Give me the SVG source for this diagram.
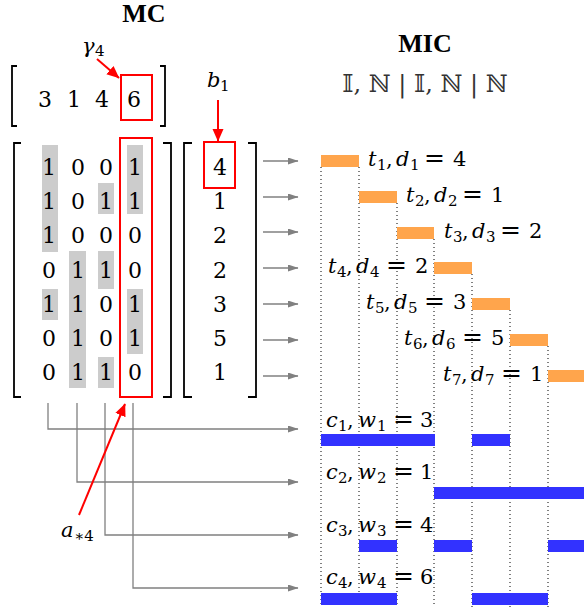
<svg xmlns="http://www.w3.org/2000/svg" width="584" height="607" viewBox="0 0 584 607">
  <style>
    .title { font-family: "Liberation Serif", "Times New Roman", serif; font-weight: bold; font-size: 26px; fill: #000; text-anchor: middle; }
    .num { font-family: "DejaVu Serif", serif; font-size: 22px; fill: #000; text-anchor: middle; }
    .m { font-family: "DejaVu Serif", serif; font-size: 21px; fill: #000; }
    .i { font-style: italic; }
    .s { font-size: 15px; }
    .eq { font-size: 25px; }
    .dbl { font-family: "DejaVu Serif", "DejaVu Sans", serif; font-size: 24px; fill: #333; text-anchor: middle; }
    .br { fill: none; stroke: #000; stroke-width: 1.8; }
    .hl { fill: #cccccc; }
    .red { fill: none; stroke: #ff0000; stroke-width: 2; }
    .rarrow { fill: none; stroke: #ff0000; stroke-width: 2; marker-end: url(#redHead); }
    .garrow { fill: none; stroke: #808080; stroke-width: 1.3; marker-end: url(#grayHead); }
    .dot { fill: none; stroke: #000; stroke-width: 1; stroke-dasharray: 1 3; }
    .task { fill: #ffa54c; }
    .cov { fill: #3232ff; }
  </style>
  <defs>
    <marker id="grayHead" markerUnits="userSpaceOnUse" markerWidth="12" markerHeight="8" refX="10" refY="3.5" orient="auto">
      <path d="M0,0 L10.5,3.5 L0,7 Z" fill="#808080"/>
    </marker>
    <marker id="redHead" markerUnits="userSpaceOnUse" markerWidth="14" markerHeight="12" refX="12" refY="5.5" orient="auto">
      <path d="M0,0 L12.5,5.5 L0,11 Z" fill="#ff0000"/>
    </marker>
  </defs>

  <!-- headings -->
  <text class="title" x="144" y="22">MC</text>
  <text class="title" x="425" y="52">MIC</text>
  <text class="dbl" x="425" y="92">𝕀, ℕ | 𝕀, ℕ | ℕ</text>

  <!-- cost vector gamma -->
  <g id="gamma">
    <path class="br" d="M17,66 H12 V126 H17"/>
    <path class="br" d="M160,66 H165 V126 H160"/>
    <text class="num" x="45" y="107">3</text>
    <text class="num" x="74" y="107">1</text>
    <text class="num" x="102" y="107">4</text>
    <text class="num" x="134" y="107">6</text>
    <rect class="red" x="121" y="75" width="31" height="45"/>
    <text class="m" y="53"><tspan class="i" x="82">γ</tspan><tspan class="s" x="95" dy="3">4</tspan></text>
  </g>

  <!-- constraint matrix A -->
  <g id="matrixA">
    <rect class="hl" x="42" y="145" width="16" height="107"/>
    <rect class="hl" x="42" y="289" width="16" height="31"/>
    <rect class="hl" x="69" y="251" width="17" height="137"/>
    <rect class="hl" x="98" y="183" width="16" height="31"/>
    <rect class="hl" x="98" y="251" width="16" height="38"/>
    <rect class="hl" x="98" y="357" width="16" height="31"/>
    <rect class="hl" x="127" y="145" width="16" height="69"/>
    <rect class="hl" x="127" y="289" width="16" height="65"/>
    <path class="br" d="M21,143 H14 V397 H21"/>
    <path class="br" d="M163,143 H171 V397 H163"/>
    <g class="num">
      <text x="49" y="175">1</text><text x="78" y="175">0</text><text x="106" y="175">0</text><text x="135" y="175">1</text>
      <text x="49" y="209">1</text><text x="78" y="209">0</text><text x="106" y="209">1</text><text x="135" y="209">1</text>
      <text x="49" y="243">1</text><text x="78" y="243">0</text><text x="106" y="243">0</text><text x="135" y="243">0</text>
      <text x="49" y="278">0</text><text x="78" y="278">1</text><text x="106" y="278">1</text><text x="135" y="278">0</text>
      <text x="49" y="312">1</text><text x="78" y="312">1</text><text x="106" y="312">0</text><text x="135" y="312">1</text>
      <text x="49" y="346">0</text><text x="78" y="346">1</text><text x="106" y="346">0</text><text x="135" y="346">1</text>
      <text x="49" y="380">0</text><text x="78" y="380">1</text><text x="106" y="380">1</text><text x="135" y="380">0</text>
    </g>
    <rect class="red" x="120" y="138" width="32" height="259"/>
    <text class="m" y="537"><tspan class="i" x="61">a</tspan><tspan class="s" x="74" dy="4">∗4</tspan></text>
  </g>

  <!-- demand vector b -->
  <g id="vectorB">
    <path class="br" d="M192,143 H184 V397 H192"/>
    <path class="br" d="M248,143 H256 V397 H248"/>
    <g class="num">
      <text x="220" y="175">4</text>
      <text x="220" y="209">1</text>
      <text x="220" y="243">2</text>
      <text x="220" y="278">2</text>
      <text x="220" y="312">3</text>
      <text x="220" y="346">5</text>
      <text x="220" y="380">1</text>
    </g>
    <rect class="red" x="204" y="142" width="31" height="46"/>
    <text class="m" y="87"><tspan class="i" x="207">b</tspan><tspan class="s" x="220" dy="4">1</tspan></text>
  </g>

  <!-- time grid -->
  <g id="grid">
    <line class="dot" x1="321" y1="167" x2="321" y2="607"/>
    <line class="dot" x1="359" y1="167" x2="359" y2="607"/>
    <line class="dot" x1="397" y1="203" x2="397" y2="607"/>
    <line class="dot" x1="434" y1="239" x2="434" y2="607"/>
    <line class="dot" x1="472" y1="274" x2="472" y2="607"/>
    <line class="dot" x1="510" y1="310" x2="510" y2="607"/>
    <line class="dot" x1="548" y1="346" x2="548" y2="607"/>
  </g>

  <!-- task intervals -->
  <g id="t1">
    <rect class="task" x="321" y="155" width="38" height="12"/>
    <text class="m" y="166"><tspan class="i" x="368">t</tspan><tspan class="s" x="377" dy="4">1</tspan><tspan x="386" dy="-4">,</tspan><tspan class="i" x="396">d</tspan><tspan class="s" x="410" dy="4">1</tspan><tspan class="eq" x="424" dy="-4">=</tspan><tspan x="453">4</tspan></text>
  </g>
  <g id="t2">
    <rect class="task" x="359" y="191" width="38" height="12"/>
    <text class="m" y="202"><tspan class="i" x="406">t</tspan><tspan class="s" x="415" dy="4">2</tspan><tspan x="424" dy="-4">,</tspan><tspan class="i" x="434">d</tspan><tspan class="s" x="448" dy="4">2</tspan><tspan class="eq" x="462" dy="-4">=</tspan><tspan x="491">1</tspan></text>
  </g>
  <g id="t3">
    <rect class="task" x="397" y="227" width="37" height="12"/>
    <text class="m" y="238"><tspan class="i" x="444">t</tspan><tspan class="s" x="453" dy="4">3</tspan><tspan x="462" dy="-4">,</tspan><tspan class="i" x="472">d</tspan><tspan class="s" x="486" dy="4">3</tspan><tspan class="eq" x="500" dy="-4">=</tspan><tspan x="529">2</tspan></text>
  </g>
  <g id="t4">
    <rect class="task" x="434" y="262" width="38" height="12"/>
    <text class="m" y="273"><tspan class="i" x="328">t</tspan><tspan class="s" x="337" dy="4">4</tspan><tspan x="346" dy="-4">,</tspan><tspan class="i" x="356">d</tspan><tspan class="s" x="370" dy="4">4</tspan><tspan class="eq" x="386" dy="-4">=</tspan><tspan x="415">2</tspan></text>
  </g>
  <g id="t5">
    <rect class="task" x="472" y="298" width="38" height="12"/>
    <text class="m" y="309"><tspan class="i" x="366">t</tspan><tspan class="s" x="375" dy="4">5</tspan><tspan x="384" dy="-4">,</tspan><tspan class="i" x="394">d</tspan><tspan class="s" x="408" dy="4">5</tspan><tspan class="eq" x="424" dy="-4">=</tspan><tspan x="453">3</tspan></text>
  </g>
  <g id="t6">
    <rect class="task" x="510" y="334" width="38" height="12"/>
    <text class="m" y="345"><tspan class="i" x="404">t</tspan><tspan class="s" x="413" dy="4">6</tspan><tspan x="422" dy="-4">,</tspan><tspan class="i" x="432">d</tspan><tspan class="s" x="446" dy="4">6</tspan><tspan class="eq" x="462" dy="-4">=</tspan><tspan x="491">5</tspan></text>
  </g>
  <g id="t7">
    <rect class="task" x="548" y="370" width="38" height="12"/>
    <text class="m" y="381"><tspan class="i" x="443">t</tspan><tspan class="s" x="452" dy="4">7</tspan><tspan x="461" dy="-4">,</tspan><tspan class="i" x="471">d</tspan><tspan class="s" x="485" dy="4">7</tspan><tspan class="eq" x="501" dy="-4">=</tspan><tspan x="530">1</tspan></text>
  </g>

  <!-- coverings -->
  <g id="c1">
    <rect class="cov" x="321" y="434" width="114" height="12"/>
    <rect class="cov" x="472" y="434" width="38" height="12"/>
    <text class="m" y="427"><tspan class="i" x="326">c</tspan><tspan class="s" x="338" dy="4">1</tspan><tspan x="347" dy="-4">,</tspan><tspan class="i" x="358">w</tspan><tspan class="s" x="377" dy="4">1</tspan><tspan class="eq" x="393" dy="-4">=</tspan><tspan x="420">3</tspan></text>
  </g>
  <g id="c2">
    <rect class="cov" x="434" y="487" width="150" height="12"/>
    <text class="m" y="479"><tspan class="i" x="326">c</tspan><tspan class="s" x="338" dy="4">2</tspan><tspan x="347" dy="-4">,</tspan><tspan class="i" x="358">w</tspan><tspan class="s" x="377" dy="4">2</tspan><tspan class="eq" x="393" dy="-4">=</tspan><tspan x="420">1</tspan></text>
  </g>
  <g id="c3">
    <rect class="cov" x="359" y="540" width="38" height="12"/>
    <rect class="cov" x="434" y="540" width="38" height="12"/>
    <rect class="cov" x="548" y="540" width="36" height="12"/>
    <text class="m" y="532"><tspan class="i" x="326">c</tspan><tspan class="s" x="338" dy="4">3</tspan><tspan x="347" dy="-4">,</tspan><tspan class="i" x="358">w</tspan><tspan class="s" x="377" dy="4">3</tspan><tspan class="eq" x="393" dy="-4">=</tspan><tspan x="420">4</tspan></text>
  </g>
  <g id="c4">
    <rect class="cov" x="321" y="593" width="76" height="12"/>
    <rect class="cov" x="472" y="593" width="76" height="12"/>
    <text class="m" y="584"><tspan class="i" x="326">c</tspan><tspan class="s" x="338" dy="4">4</tspan><tspan x="347" dy="-4">,</tspan><tspan class="i" x="358">w</tspan><tspan class="s" x="377" dy="4">4</tspan><tspan class="eq" x="393" dy="-4">=</tspan><tspan x="420">6</tspan></text>
  </g>

  <!-- connectors -->
  <g id="connectors">
    <path class="garrow" d="M263,161 H298"/>
    <path class="garrow" d="M263,197 H298"/>
    <path class="garrow" d="M263,232 H298"/>
    <path class="garrow" d="M263,268 H298"/>
    <path class="garrow" d="M263,304 H298"/>
    <path class="garrow" d="M263,340 H298"/>
    <path class="garrow" d="M263,376 H298"/>
    <path class="garrow" d="M48,403 V429 H298"/>
    <path class="garrow" d="M77,403 V482 H298"/>
    <path class="garrow" d="M105,403 V535 H298"/>
    <path class="garrow" d="M133,403 V588 H298"/>
    <path class="rarrow" d="M97,59 L119,78"/>
    <path class="rarrow" d="M218,100 V141"/>
    <path class="rarrow" d="M79,515 L125,404"/>
  </g>
</svg>
